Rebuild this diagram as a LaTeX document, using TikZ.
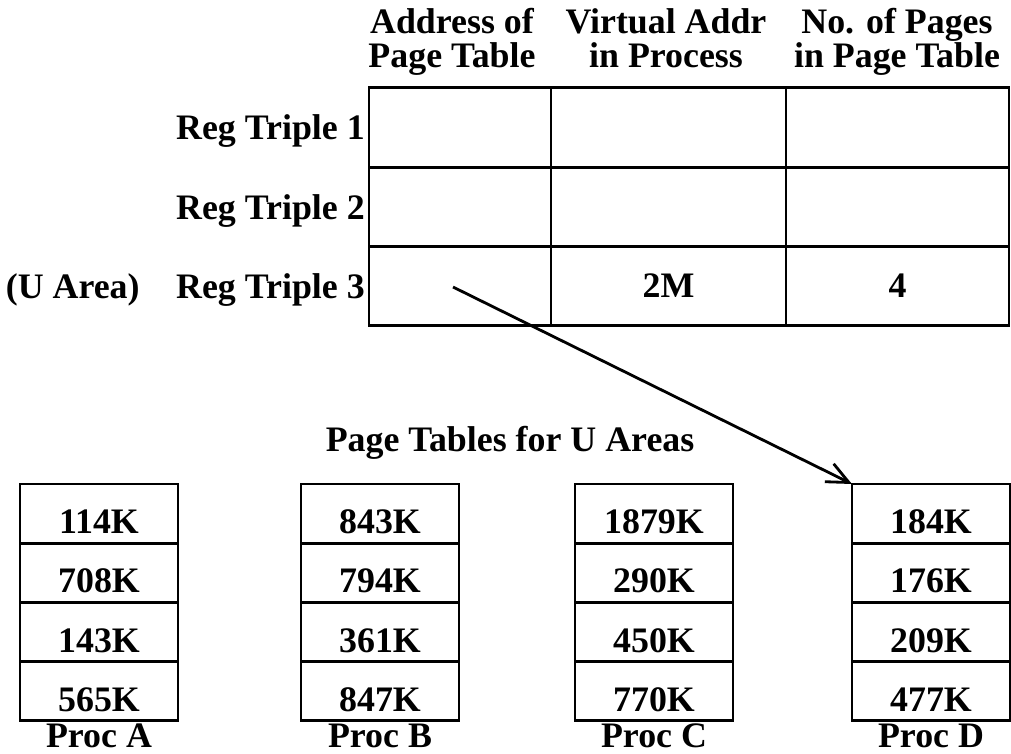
\documentclass[tikz,border=0pt]{standalone}
\usepackage{fontspec}
\setmainfont{Liberation Serif}
\usetikzlibrary{arrows.meta,positioning}

\begin{document}
\begin{tikzpicture}[
  x=0.025cm, y=-0.025cm,
  every node/.style={font=\fontsize{25.5}{24}\selectfont\bfseries},
  regcell/.style={
    draw,
    line width=2pt,
    minimum height=1.98cm,
    inner sep=0pt,
    outer sep=0pt
  },
  colhead/.style={
    anchor=south,
    align=center,
    inner sep=0pt,
    text depth=0pt
  },
  rowlabel/.style={inner sep=0pt,text depth=0pt},
  ptecell/.style={
    draw,
    line width=2pt,
    minimum width=3.95cm,
    minimum height=1.48cm,
    inner sep=0pt,
    outer sep=0pt,
    text height=1cm,
    text depth=0pt
  },
  ptr/.style={-{Straight Barb[length=0.55cm,width=0.5cm]},line width=2pt}
]
  \useasboundingbox (0,0) rectangle (1011,754);

  % register triples
  \foreach \r/\y in {1/127.5,2/207,3/286}{
    \node[regcell,minimum width=4.55cm] (addr\r) at (460,\y) {};
    \node[regcell,minimum width=5.875cm] (virt\r) at (668.5,\y) {};
    \node[regcell,minimum width=5.575cm] (npg\r) at (897.5,\y) {};
    \node[rowlabel,left=0.1cm of addr\r] (reg\r) {Reg Triple \r};
  }
  \node[rowlabel,left=0.9cm of reg3] (uarea) {(U Area)};
  \node (vaddr) at (virt3) {2M};
  \node (npages) at (npg3) {4};

  \node[colhead] (hdaddr) at (452,68) {Address of\\Page Table};
  \node[colhead] (hdvirt) at (666,68) {Virtual Addr\\in Process};
  \node[colhead] (hdnpg) at (897,68) {No. of Pages\\in Page Table};

  % page tables
  \node (title) at (510,443) {Page Tables for U Areas};
  \foreach \p/\x/\a/\b/\c/\d in {A/99/114K/708K/143K/565K,B/380/843K/794K/361K/847K,
      C/654/1879K/290K/450K/770K,D/931/184K/176K/209K/477K}{
    \node[ptecell] (\p1) at (\x,513.6) {\a};
    \node[ptecell,below=0pt of \p1] (\p2) {\b};
    \node[ptecell,below=0pt of \p2] (\p3) {\c};
    \node[ptecell,below=0pt of \p3] (\p4) {\d};
    \node[rowlabel,anchor=base] (proc\p) at (\x,747) {Proc \p};
  }

  \coordinate (uptr) at (453,287);
  \draw[ptr] (uptr) -- (D1.north west);
\end{tikzpicture}
\end{document}
